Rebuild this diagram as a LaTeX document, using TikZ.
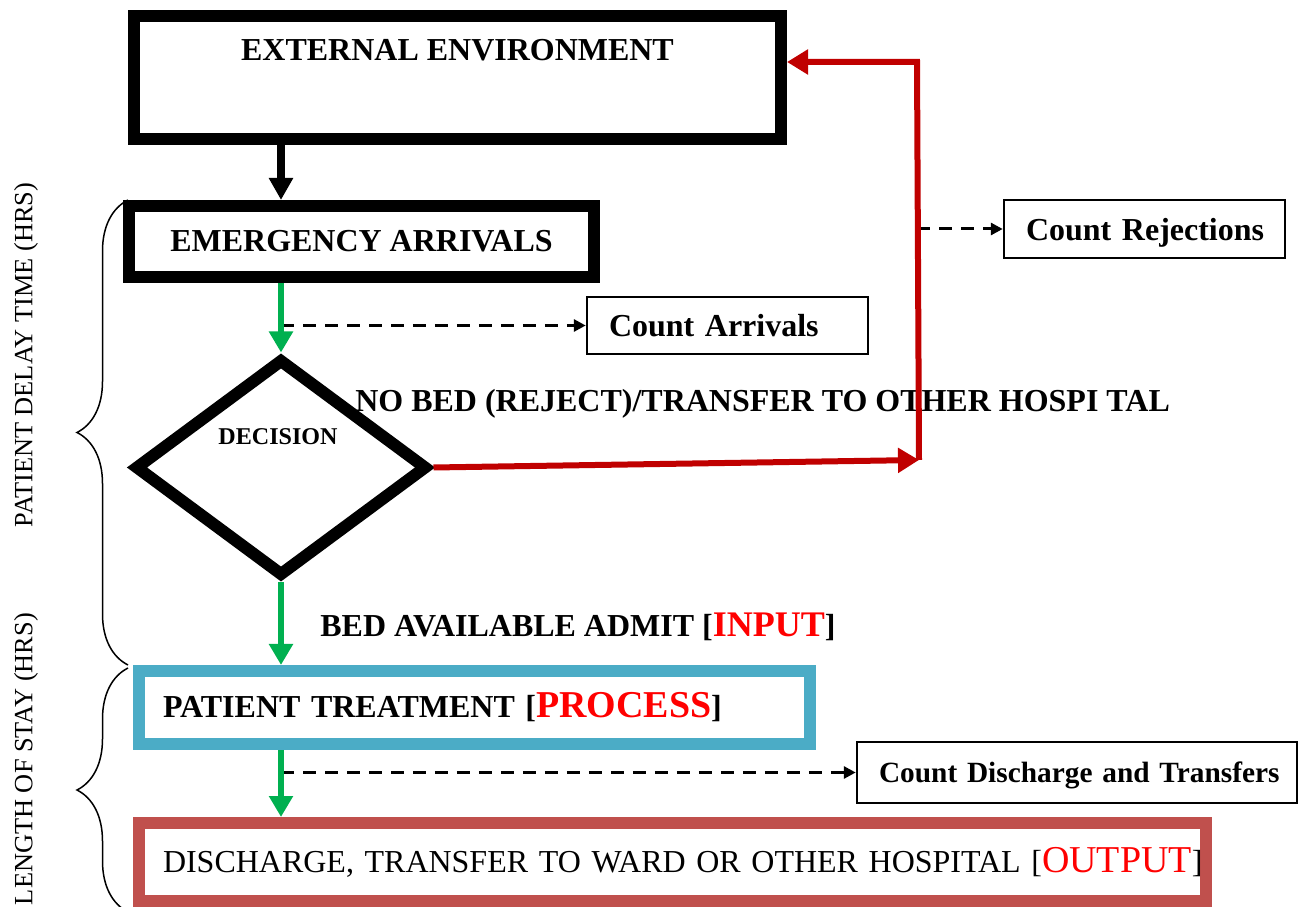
\documentclass[tikz,border=0pt]{standalone}
\usepackage{fontspec}
\setmainfont{Liberation Serif}
\usetikzlibrary{arrows.meta,shapes.geometric,decorations.pathreplacing}
\definecolor{flowgreen}{HTML}{00B050}
\definecolor{rejred}{HTML}{C00000}
\definecolor{procblue}{HTML}{4BACC6}
\definecolor{outred}{HTML}{C0504D}
\definecolor{tagred}{HTML}{FF0000}
\newcommand{\redtag}[2][21.6]{{\fontsize{#1}{24}\selectfont\color{tagred}#2}}

\begin{document}
\begin{tikzpicture}[
  every node/.style={font=\fontsize{18.2}{20}\selectfont\bfseries},
  bx/.style={draw,line width=0.24cm,inner ysep=0pt,align=left},
  cnt/.style={draw,line width=0.05cm,inner xsep=0.44cm,inner ysep=0pt,text depth=0pt,align=left},
  side/.style={rotate=90,font=\fontsize{15}{17}\selectfont},
  bar/.style={line width=0.16cm,-{Triangle[length=0.44cm,width=0.46cm]}},
  gar/.style={draw=flowgreen,line width=0.12cm,-{Triangle[length=0.42cm,width=0.46cm]}},
  rar/.style={draw=rejred,line width=0.12cm,-{Triangle[length=0.42cm,width=0.48cm]}},
  dar/.style={line width=0.06cm,dash pattern=on 0.26cm off 0.18cm,-{Triangle[length=0.24cm,width=0.24cm]}},
  brc/.style={decorate,decoration={brace,amplitude=1.02cm},line width=0.03cm}]
\useasboundingbox (0,0) rectangle (26.06,-18.14);
\coordinate (spine) at (5.62,0);
\coordinate (rjbot) at (18.38,-9.20);
\coordinate (rjtop) at (18.34,-1.24);
\node[bx,minimum width=12.94cm,text height=0.9cm,text depth=1.56cm] (env) at (9.15,-1.55) {EXTERNAL ENVIRONMENT};
\node[bx,minimum width=9.3cm,minimum height=1.42cm] (arr) at (7.23,-4.83) {EMERGENCY ARRIVALS};
\node[cnt,text width=4.74cm,minimum height=1.14cm] (cnta) at (14.55,-6.51) {\mbox{Count Arrivals}};
\node[cnt,text width=4.74cm,minimum height=1.16cm] (cntr) at (22.89,-4.58) {\mbox{Count Rejections}};
\node[draw,diamond,line width=0.24cm,minimum width=5.86cm,minimum height=4.36cm] (dec) at (5.62,-9.35) {};
\node[font=\fontsize{13.7}{15}\selectfont\bfseries] (dectext) at (5.56,-8.74) {DECISION};
\node[anchor=base west,inner sep=0pt] (nobed) at (7.1,-8.23) {NO BED (REJECT)/TRANSFER TO OTHER HOSPI TAL};
\node[anchor=base west,inner sep=0pt] (admit) at (6.4,-12.73) {BED AVAILABLE ADMIT [\redtag[20.5]{INPUT}]};
\node[bx,draw=procblue,inner xsep=0.48cm,text width=12.46cm,minimum height=1.46cm] (pt) at (9.49,-14.15) {\mbox{PATIENT TREATMENT [\redtag{PROCESS}]}};
\node[cnt,font=\fontsize{16.7}{18}\selectfont\bfseries,text width=7.92cm,minimum height=1.22cm] (cntd) at (21.54,-15.45) {\mbox{Count Discharge and Transfers}};
\node[bx,draw=outred,inner xsep=0.48cm,text width=20.38cm,minimum height=1.56cm,font=\fontsize{18.2}{20}\selectfont] (dis) at (13.45,-17.24) {\mbox{DISCHARGE, TRANSFER TO WARD OR OTHER HOSPITAL [\redtag{OUTPUT}]}};
\node[side] (delay) at (0.52,-7.1) {PATIENT DELAY TIME (HRS)};
\node[side] (stay) at (0.52,-15.18) {LENGTH OF STAY (HRS)};
\draw[dar] (spine |- cnta.west) -- (cnta.west);
\draw[dar] (rjtop |- cntr.west) -- (cntr.west);
\draw[dar] (spine |- cntd.west) -- (cntd.west);
\draw[bar] (spine |- env.south) -- (spine |- arr.north);
\draw[gar] (spine |- arr.south) -- (spine |- dec.north);
\draw[gar] (dec.south) -- (spine |- pt.north);
\draw[gar] (spine |- pt.south) -- (spine |- dis.north);
\draw[rar] (dec.east) -- (rjbot);
\draw[rar,line join=miter] (rjbot) -- (rjtop) -- (env.east |- rjtop);
\draw[brc] (2.56,-13.30) -- (2.56,-4.0);
\draw[brc] (2.56,-18.24) -- (2.56,-13.36);
\end{tikzpicture}
\end{document}
